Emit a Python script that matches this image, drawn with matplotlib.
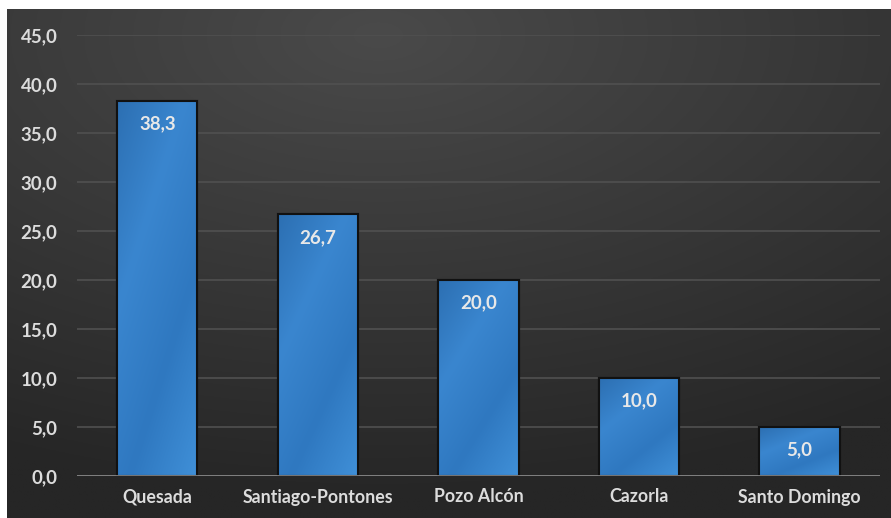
import numpy as np
import matplotlib
matplotlib.use("Agg")
import matplotlib.pyplot as plt
from matplotlib.colors import LinearSegmentedColormap

categories = ["Quesada", "Santiago-Pontones", "Pozo Alcón", "Cazorla", "Santo Domingo"]
values = [38.3, 26.7, 20.0, 10.0, 5.0]
yticks = [0, 5, 10, 15, 20, 25, 30, 35, 40, 45]

W, H = 891, 518
fig = plt.figure(figsize=(W / 100, H / 100), dpi=100)
fig.patch.set_facecolor("white")

# dark radial background
bg = fig.add_axes([7 / W, 0, 1 - 7 / W, (H - 9) / H])
bg.set_axis_off()
ny, nx = 300, 500
yy, xx = np.mgrid[0:1:ny * 1j, 0:1:nx * 1j]
d = np.sqrt(((xx - 0.42) * 1.0) ** 2 + ((yy - 0.95) * 1.1) ** 2)
d = np.clip(d / 1.0, 0, 1)
light = np.array([0x4a, 0x4a, 0x4a]) / 255
dark = np.array([0x26, 0x26, 0x26]) / 255
img = light[None, None, :] * (1 - d[..., None]) + dark[None, None, :] * d[..., None]
bg.imshow(img, origin="lower", extent=[0, 1, 0, 1], aspect="auto")
bg.set_xlim(0, 1)
bg.set_ylim(0, 1)

ax = fig.add_axes([77 / W, (H - 476) / H, (879.75 - 77) / W, (476 - 35) / H])
ax.set_facecolor("none")
for s in ax.spines.values():
    s.set_visible(False)

x = np.arange(len(categories))
ax.set_xlim(-0.5, len(categories) - 0.5)
ax.set_ylim(0, 45)
ax.set_yticks(yticks)
ax.yaxis.grid(True, color="#505050", linewidth=1.2)
ax.set_axisbelow(True)
ax.axhline(0, color="#8a8a8a", linewidth=1.2, zorder=4)

bars = ax.bar(x, values, width=0.5, color="#2f78bf", edgecolor="#111111",
              linewidth=1.5, zorder=3)

cmap = LinearSegmentedColormap.from_list("b", ["#2c6fb2", "#3a86cf", "#2f78c0", "#4090d8"])
grad = np.linspace(0, 1, 256).reshape(-1, 1) * 0.6 + np.linspace(0, 1, 256).reshape(1, -1) * 0.4
for b in bars:
    bx, by = b.get_x(), b.get_y()
    bw, bh = b.get_width(), b.get_height()
    im = ax.imshow(grad, cmap=cmap, extent=[bx, bx + bw, by, by + bh],
                   aspect="auto", origin="upper", zorder=3.1)
    im.set_clip_path(b)
    ax.bar(bx + bw / 2, bh, width=bw, color="none", edgecolor="#111111",
           linewidth=1.5, zorder=3.2)

font = ["Lato", "DejaVu Sans"]
lc = "#dcdcdc"
fs = 13.5
for xi, v in zip(x, values):
    ax.annotate(f"{v:.1f}".replace(".", ","), (xi, v), xytext=(0, -16.5),
                textcoords="offset points", ha="center", va="center",
                color="#e8e8e8", fontsize=fs, fontweight="bold", family=font, zorder=5)

ax.set_yticklabels([f"{t:.1f}".replace(".", ",") for t in yticks],
                   color=lc, fontsize=fs, fontweight="bold", family=font)
ax.set_xticks(x)
ax.set_xticklabels(categories, color=lc, fontsize=12.8, fontweight="bold", family=font)
ax.tick_params(axis="both", length=0)
ax.tick_params(axis="y", pad=14)
ax.tick_params(axis="x", pad=9)

fig.savefig("out.png", dpi=100, facecolor=fig.get_facecolor())
